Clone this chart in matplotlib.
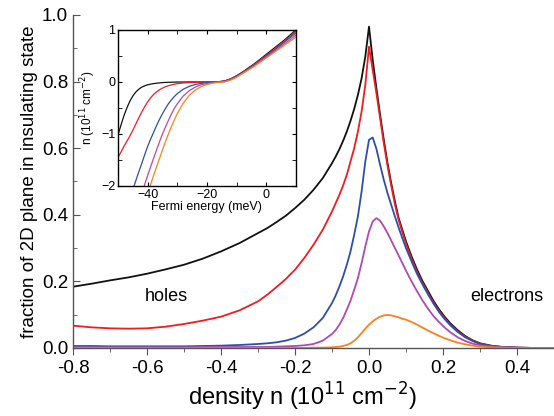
import numpy as np
import matplotlib
matplotlib.use("Agg")
import matplotlib.pyplot as plt
from matplotlib.ticker import MultipleLocator

plt.rcParams['font.family'] = ['Liberation Sans', 'DejaVu Sans']

# main panel: fraction vs density
density = [-0.8, -0.75, -0.7, -0.65, -0.6, -0.55, -0.5, -0.45, -0.4, -0.35,
           -0.3, -0.275, -0.25, -0.225, -0.2, -0.175, -0.15, -0.125, -0.1, -0.09,
           -0.08, -0.07, -0.06, -0.05, -0.04, -0.03, -0.02, -0.01, 0.0, 0.01,
           0.02, 0.03, 0.04, 0.05, 0.06, 0.07, 0.08, 0.09, 0.1, 0.115,
           0.13, 0.145, 0.16, 0.175, 0.19, 0.205, 0.22, 0.24, 0.26, 0.28,
           0.3, 0.33, 0.36, 0.4, 0.45, 0.5]
frac_black = [0.184, 0.193, 0.203, 0.212, 0.223, 0.236, 0.25, 0.268, 0.29, 0.315,
              0.345, 0.36, 0.378, 0.397, 0.42, 0.445, 0.475, 0.51, 0.555, 0.575,
              0.597, 0.622, 0.65, 0.682, 0.718, 0.76, 0.81, 0.875, 0.965, 0.865,
              0.78, 0.70, 0.625, 0.555, 0.495, 0.44, 0.39, 0.355, 0.32, 0.275,
              0.235, 0.2, 0.17, 0.14, 0.115, 0.093, 0.074, 0.053, 0.036, 0.023,
              0.014, 0.007, 0.003, 0.001, 0.0, 0.0]
frac_red = [0.067, 0.062, 0.059, 0.058, 0.059, 0.064, 0.072, 0.082, 0.094, 0.113,
            0.14, 0.16, 0.183, 0.207, 0.235, 0.27, 0.31, 0.355, 0.41, 0.435,
            0.46, 0.488, 0.52, 0.56, 0.60, 0.65, 0.71, 0.79, 0.905, 0.835,
            0.765, 0.69, 0.615, 0.548, 0.488, 0.432, 0.385, 0.348, 0.313, 0.268,
            0.228, 0.194, 0.164, 0.135, 0.11, 0.089, 0.07, 0.05, 0.034, 0.022,
            0.013, 0.006, 0.003, 0.001, 0.0, 0.0]
frac_blue = [0.006, 0.006, 0.005, 0.005, 0.005, 0.005, 0.005, 0.006, 0.007, 0.009,
             0.012, 0.014, 0.017, 0.022, 0.03, 0.043, 0.062, 0.09, 0.135, 0.158,
             0.185, 0.215, 0.25, 0.29, 0.34, 0.395, 0.47, 0.56, 0.625, 0.632,
             0.598, 0.55, 0.505, 0.465, 0.43, 0.395, 0.362, 0.33, 0.30, 0.26,
             0.222, 0.19, 0.16, 0.132, 0.107, 0.086, 0.068, 0.048, 0.032, 0.021,
             0.012, 0.006, 0.003, 0.001, 0.0, 0.0]
frac_magenta = [0.002, 0.002, 0.002, 0.002, 0.002, 0.002, 0.002, 0.003, 0.003, 0.003,
                0.003, 0.003, 0.004, 0.005, 0.006, 0.008, 0.012, 0.022, 0.042, 0.054,
                0.07, 0.09, 0.115, 0.142, 0.175, 0.21, 0.255, 0.305, 0.35, 0.38,
                0.39, 0.382, 0.365, 0.345, 0.323, 0.30, 0.278, 0.255, 0.232, 0.2,
                0.17, 0.142, 0.117, 0.095, 0.077, 0.061, 0.047, 0.032, 0.021, 0.013,
                0.008, 0.004, 0.002, 0.0005, 0.0, 0.0]
frac_orange = [0.0, 0.0, 0.0, 0.0, 0.0, 0.0, 0.0, 0.0, 0.0, 0.0,
               0.0, 0.0, 0.0, 0.0, 0.0, 0.0, 0.001, 0.001, 0.002, 0.003,
               0.004, 0.006, 0.009, 0.014, 0.022, 0.032, 0.045, 0.058, 0.07, 0.08,
               0.088, 0.094, 0.098, 0.099, 0.098, 0.095, 0.092, 0.088, 0.085, 0.078,
               0.07, 0.061, 0.052, 0.044, 0.036, 0.029, 0.023, 0.016, 0.011, 0.007,
               0.004, 0.002, 0.001, 0.0, 0.0, 0.0]

# inset: n vs Fermi energy
fermi = [-50, -49, -48, -47, -46, -45, -44, -43, -42, -41,
         -40, -39, -38, -37, -36, -35, -34, -33, -32, -31,
         -30, -28, -26, -24, -22, -20, -18, -16, -14, -12,
         -10, -8, -6, -4, -2, 0, 2, 4, 6, 8, 10]
n_black = [-1.02, -0.83, -0.65, -0.5, -0.37, -0.27, -0.195, -0.14, -0.1, -0.075,
           -0.055, -0.042, -0.032, -0.024, -0.018, -0.013, -0.009, -0.007, -0.005, -0.003,
           -0.002, -0.001, 0.0, 0.0, 0.0, 0.0, 0.0, 0.005, 0.02, 0.06,
           0.12, 0.19, 0.27, 0.35, 0.44, 0.53, 0.62, 0.71, 0.8, 0.9, 1.0]
n_red = [-1.45, -1.35, -1.24, -1.14, -1.04, -0.93, -0.81, -0.69, -0.58, -0.475,
         -0.385, -0.305, -0.24, -0.19, -0.15, -0.118, -0.092, -0.072, -0.056, -0.043,
         -0.033, -0.02, -0.012, -0.007, -0.004, -0.002, 0.0, 0.004, 0.018, 0.055,
         0.115, 0.185, 0.26, 0.34, 0.43, 0.51, 0.6, 0.69, 0.78, 0.87, 0.97]
n_blue = [-2.9, -2.75, -2.58, -2.42, -2.25, -2.07, -1.9, -1.73, -1.57, -1.4,
          -1.24, -1.1, -0.97, -0.84, -0.72, -0.61, -0.51, -0.42, -0.345, -0.28,
          -0.225, -0.14, -0.085, -0.05, -0.028, -0.015, -0.006, 0.0, 0.015, 0.05,
          0.11, 0.18, 0.25, 0.33, 0.41, 0.5, 0.58, 0.67, 0.76, 0.85, 0.94]
n_magenta = [-3.2, -3.08, -2.95, -2.82, -2.7, -2.57, -2.45, -2.3, -2.15, -1.97,
             -1.8, -1.63, -1.47, -1.31, -1.15, -1.0, -0.87, -0.74, -0.62, -0.51,
             -0.42, -0.27, -0.17, -0.1, -0.055, -0.03, -0.012, -0.002, 0.01, 0.045,
             0.1, 0.17, 0.24, 0.32, 0.4, 0.48, 0.56, 0.64, 0.73, 0.81, 0.9]
n_orange = [-3.4, -3.3, -3.2, -3.1, -3.0, -2.92, -2.85, -2.7, -2.55, -2.35,
            -2.15, -1.97, -1.8, -1.63, -1.47, -1.31, -1.15, -1.0, -0.86, -0.73,
            -0.61, -0.41, -0.26, -0.16, -0.09, -0.05, -0.022, -0.006, 0.0, 0.035,
            0.09, 0.16, 0.23, 0.3, 0.38, 0.46, 0.54, 0.62, 0.7, 0.78, 0.86]

colors = ['#111111', '#ee1c24', '#2e4fa8', '#b04ab0', '#f7821e']
main_series = [frac_black, frac_red, frac_blue, frac_magenta, frac_orange]
inset_series = [n_black, n_red, n_blue, n_magenta, n_orange]

fig = plt.figure(figsize=(5.54, 4.16), dpi=100)
ax = fig.add_axes([0.1318, 0.1635, 0.8682, 0.8005])
for ys, c in zip(main_series, colors):
    ax.plot(density, ys, color=c, lw=1.3, solid_joinstyle='round')
ax.set_xlim(-0.8, 0.5)
ax.set_ylim(0, 1.0)
ax.xaxis.set_minor_locator(MultipleLocator(0.1))
ax.yaxis.set_minor_locator(MultipleLocator(0.1))
ax.set_xticks([-0.8, -0.6, -0.4, -0.2, 0.0, 0.2, 0.4])
ax.set_xticklabels(['-0.8', '-0.6', '-0.4', '-0.2', '0.0', '0.2', '0.4'])
ax.set_yticks([0.0, 0.2, 0.4, 0.6, 0.8, 1.0])
ax.set_yticklabels(['0.0', '0.2', '0.4', '0.6', '0.8', '1.0'])
ax.spines['top'].set_visible(False)
ax.spines['right'].set_visible(False)
for s in ['left', 'bottom']:
    ax.spines[s].set_color('#555555')
    ax.spines[s].set_linewidth(1.0)
ax.tick_params(axis='x', which='both', direction='out', color='#555555', labelsize=13.5)
ax.tick_params(axis='y', which='both', direction='in', color='#555555', labelsize=13.5)
ax.tick_params(which='major', length=5)
ax.tick_params(which='minor', length=3)
ax.set_xlabel('density n (10$^{11}$ cm$^{-2}$)', fontsize=17, labelpad=1)
ax.xaxis.set_label_coords(0.478, -0.1)
ax.set_ylabel('fraction of 2D plane in insulating state', fontsize=13.5, labelpad=3)
ax.text(-0.548, 0.156, 'holes', fontsize=13, ha='center', va='center')
ax.text(0.373, 0.156, 'electrons', fontsize=13, ha='center', va='center')

ins = fig.add_axes([0.213, 0.553, 0.321, 0.375])
for ys, c in zip(inset_series, colors):
    ins.plot(fermi, ys, color=c, lw=0.9)
ins.set_xlim(-50, 10)
ins.set_ylim(-2, 1)
ins.xaxis.set_major_locator(MultipleLocator(20))
ins.xaxis.set_minor_locator(MultipleLocator(10))
ins.yaxis.set_major_locator(MultipleLocator(1))
ins.yaxis.set_minor_locator(MultipleLocator(0.5))
ins.tick_params(which='both', direction='in', top=True, right=True, labelsize=9, pad=2)
ins.tick_params(which='major', length=3)
ins.tick_params(which='minor', length=3)
for s in ins.spines.values():
    s.set_linewidth(1.0)
ins.set_xlabel('Fermi energy (meV)', fontsize=9, labelpad=0)
ins.set_ylabel('n (10$^{11}$ cm$^{-2}$)', fontsize=8.5, labelpad=2)

fig.savefig('out.png', dpi=100)
